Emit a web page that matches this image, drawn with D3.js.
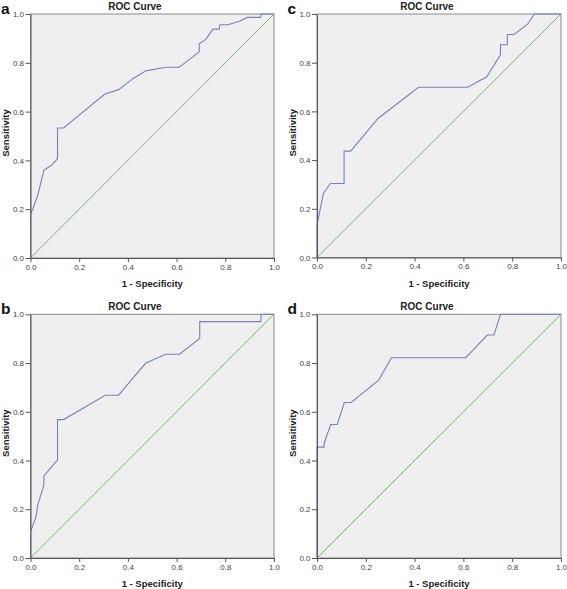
<!DOCTYPE html>
<html><head><meta charset="utf-8">
<script src="https://cdn.jsdelivr.net/npm/d3@7"></script>
<style>body{margin:0;background:#fff}svg{display:block}</style>
</head><body><svg id="c" width="567" height="589"></svg>
<script>
const ticks = [0, 0.2, 0.4, 0.6, 0.8, 1.0];
const panelLetters = ["a", "b", "c", "d"];
const chartTitle = "ROC Curve";
const xLabel = "1 - Specificity";
const yLabel = "Sensitivity";

const fprA = [0,0,0.011,0.030,0.055,0.064,0.085,0.111,0.111,0.136,0.304,0.362,0.419,0.474,0.556,0.611,0.693,0.693,0.721,0.749,0.775,0.778,0.811,0.860,0.890,0.945,0.948,1];
const tprA = [0,0.181,0.204,0.259,0.359,0.366,0.379,0.407,0.533,0.533,0.671,0.690,0.734,0.767,0.782,0.782,0.845,0.878,0.897,0.938,0.938,0.956,0.956,0.971,0.986,0.986,1,1];

const fprB = [0,0,0.023,0.030,0.055,0.055,0.111,0.111,0.136,0.307,0.362,0.423,0.474,0.556,0.612,0.695,0.695,0.945,0.948,1];
const tprB = [0,0.108,0.17,0.218,0.30,0.337,0.403,0.568,0.568,0.668,0.668,0.741,0.8,0.836,0.836,0.901,0.970,0.970,1,1];

const fprC = [0,0,0.026,0.055,0.111,0.111,0.138,0.250,0.416,0.617,0.695,0.752,0.752,0.780,0.780,0.807,0.863,0.891,1];
const tprC = [0,0.133,0.263,0.304,0.304,0.437,0.437,0.571,0.699,0.699,0.741,0.832,0.874,0.874,0.916,0.916,0.958,1,1];

const fprD = [0,0,0.029,0.029,0.056,0.083,0.112,0.140,0.253,0.305,0.610,0.698,0.725,0.752,1];
const tprD = [0,0.455,0.455,0.47,0.548,0.548,0.638,0.638,0.730,0.822,0.822,0.915,0.915,1,1];

const series = [[fprA,tprA],[fprB,tprB],[fprC,tprC],[fprD,tprD]];
// layout: plot boxes
const boxes = [
  {x0:30.5, x1:274, y0:14, y1:258, titleX:135},
  {x0:30.5, x1:274, y0:314.3, y1:558, titleX:135},
  {x0:317, x1:561, y0:14, y1:257.5, titleX:427},
  {x0:317, x1:561, y0:314.3, y1:558, titleX:427}
];

const svg = d3.select("#c");
const font = "Arial, 'Liberation Sans', sans-serif";

boxes.forEach((b, i) => {
  const x = d3.scaleLinear().domain([0,1]).range([b.x0, b.x1]);
  const y = d3.scaleLinear().domain([0,1]).range([b.y1, b.y0]);
  const g = svg.append("g");

  g.append("rect").attr("x", b.x0).attr("y", b.y0)
    .attr("width", b.x1 - b.x0).attr("height", b.y1 - b.y0)
    .attr("fill", "#efefef").attr("stroke", "#8a8a8a").attr("stroke-width", 1);

  // diagonal reference
  const diag = [0, 1];
  g.append("path").datum(diag)
    .attr("d", d3.line().x(d => x(d)).y(d => y(d)))
    .attr("stroke", "#6cbf6c").attr("stroke-width", 1).attr("fill", "none");

  const [fx, ty] = series[i];
  g.append("path").datum(d3.range(fx.length))
    .attr("d", d3.line().x(k => x(fx[k])).y(k => y(ty[k])))
    .attr("stroke", "#7a80bb").attr("stroke-width", 1.1).attr("fill", "none");

  const xa = g.append("g").attr("transform", `translate(0,${b.y1})`)
    .call(d3.axisBottom(x).tickValues(ticks).tickFormat(d3.format(".1f")).tickSize(4).tickSizeOuter(0));
  const ya = g.append("g").attr("transform", `translate(${b.x0},0)`)
    .call(d3.axisLeft(y).tickValues(ticks).tickFormat(d3.format(".1f")).tickSize(5).tickSizeOuter(0));
  [xa, ya].forEach(a => {
    a.select(".domain").attr("stroke", "#555");
    a.selectAll(".tick line").attr("stroke", "#555");
    a.selectAll(".tick text").attr("fill", "#444").attr("font-size", 8).attr("font-family", font);
  });
  xa.selectAll(".tick text").attr("dy", "0.95em").attr("y", 4);
  ya.selectAll(".tick text").attr("x", -6.5).attr("dy", "0.33em");

  g.append("text").attr("x", b.titleX).attr("y", b.y0 - 4)
    .attr("text-anchor", "middle").attr("font-family", font).attr("font-weight", "bold")
    .attr("font-size", 10).attr("fill", "#222").text(chartTitle);

  g.append("text").attr("x", (b.x0 + b.x1) / 2).attr("y", b.y1 + 29)
    .attr("text-anchor", "middle").attr("font-family", font).attr("font-weight", "bold")
    .attr("font-size", 9.5).attr("fill", "#222").text(xLabel);

  g.append("text").attr("transform", `translate(${b.x0 - 21.5},${(b.y0 + b.y1) / 2 - 3}) rotate(-90)`)
    .attr("text-anchor", "middle").attr("font-family", font).attr("font-weight", "bold")
    .attr("font-size", 9.5).attr("fill", "#222").text(yLabel);

  g.append("text").attr("x", b.x0 - 29.5).attr("y", b.y0 - 0.5)
    .attr("font-family", font).attr("font-weight", "bold")
    .attr("font-size", 15.5).attr("fill", "#111").text(panelLetters[i]);
});
</script></body></html>
